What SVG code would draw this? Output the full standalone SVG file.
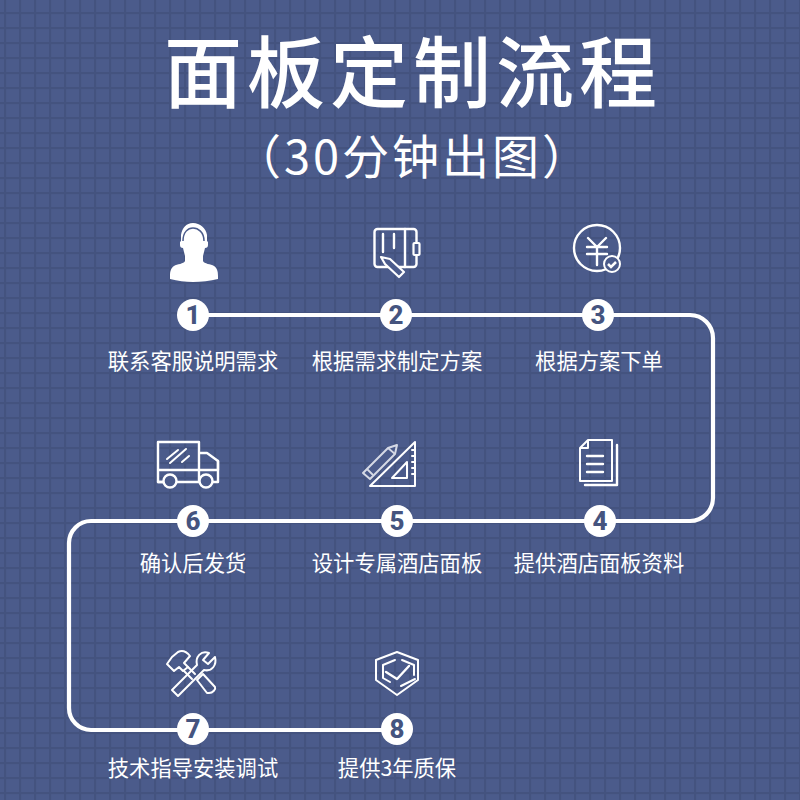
<svg xmlns="http://www.w3.org/2000/svg" width="800" height="800" viewBox="0 0 800 800">
<style>
text{font-family:"Noto Sans CJK SC","Liberation Sans",sans-serif;fill:#fff;text-anchor:middle}
.lb{font-size:21.300px}
.n{font-size:26px;font-weight:800;fill:#45547f;font-family:"Roboto","Noto Sans",sans-serif}
.c{fill:#fff}
.i{fill:none;stroke:#fff;stroke-width:2.400;stroke-linejoin:round;stroke-linecap:round}
.t{fill:none;stroke:#fff;stroke-width:2;stroke-linejoin:round;stroke-linecap:round}
</style>
<defs>
<pattern id="g" width="15" height="15" patternUnits="userSpaceOnUse" x="5" y="13">
<rect width="15" height="15" fill="#4b5b8b"/>
<rect x="0" width="1.200" height="15" fill="#44537f"/>
<rect x="14" width="1" height="15" fill="#44537f"/>
<rect y="0" width="15" height="1.200" fill="#44537f"/>
<rect y="14" width="15" height="1" fill="#44537f"/>
</pattern>
</defs>
<rect width="800" height="800" fill="url(#g)"/>
<g id="title">
<text x="413" y="102" font-size="78" font-weight="500" letter-spacing="5">面板定制流程</text>
<text x="413" y="174" font-size="47" font-weight="400" letter-spacing="3">（30分钟出图）</text>
</g>
<g id="connectors">
<path d="M193 315H690a23 23 0 0 1 23 23V498a23 23 0 0 1 -23 23H91a22 22 0 0 0 -22 22V708a22 22 0 0 0 22 22H397" fill="none" stroke="#fff" stroke-width="4.200"/>
</g>
<g id="node1">
<path class="c" d="M193 223c-7 0-11 5-12 12v6l-1 1v3c0 2 1 3 3 3l2 8v5c-1 3-8 3-11 5-3 2-4 5-4 10v3c8 2 15 3 23 3s17-1 25-3v-3c0-5-1-8-4-10-3-2-10-2-11-5v-5l2-8c2 0 3-1 3-3v-3l-1-1v-6c-1-7-7-12-14-12z"/>
<path d="M183 241c0-9 5-13 10-13s11 4 11 13" fill="none" stroke="#4b5b8b" stroke-width="1.500"/>
<circle class="c" cx="193" cy="315" r="16"/><text class="n" x="193" y="324">1</text>
<text class="lb" x="193" y="369">联系客服说明需求</text>
</g>
<g id="node2">
<rect class="i" x="374.500" y="229" width="42" height="38" rx="3"/>
<path class="i" d="M383 234V252M394 234V248M405 229V267"/>
<rect x="413.500" y="243" width="6" height="12" rx="1" fill="#4b5b8b" stroke="#fff" stroke-width="2.200"/>
<path d="M381 257l9 2 14 13-5 5-14-13z" fill="#4b5b8b" stroke="#fff" stroke-width="2.200" stroke-linejoin="round"/>
<circle class="c" cx="396" cy="315" r="16"/><text class="n" x="396" y="324">2</text>
<text class="lb" x="397" y="369">根据需求制定方案</text>
</g>
<g id="node3">
<circle class="i" cx="597" cy="248" r="23"/>
<path class="i" d="M588 238L597 247L606 238M587 247H607M587 254H607M597 247V265"/>
<circle cx="612" cy="264" r="8" fill="#4b5b8b" stroke="#fff" stroke-width="2"/>
<path d="M608 264l3 3 5-5" fill="none" stroke="#fff" stroke-width="2.500"/>
<circle class="c" cx="598" cy="315" r="16"/><text class="n" x="598" y="324">3</text>
<text class="lb" x="599" y="369">根据方案下单</text>
</g>
<g id="node4">
<path class="t" d="M588 440H612V481H580V448ZM588 440V448H580"/>
<path class="i" d="M617 445V485H585"/>
<path class="i" d="M587 456H603M587 464H603M587 472H603"/>
<circle class="c" cx="600" cy="521" r="16"/><text class="n" x="600" y="530">4</text>
<text class="lb" x="599" y="571">提供酒店面板资料</text>
</g>
<g id="node5">
<path class="t" d="M415 442V486H370ZM407 462L392 478H407Z"/>
<path class="t" stroke-width="1.500" d="M415 450h-3M415 456h-3M415 462h-3M415 468h-3M415 474h-3"/>
<path d="M363 473L388 448 397 445 395 454 370 479Z" fill="#4b5b8b" stroke="#d5d9e5" stroke-width="2" stroke-linejoin="round"/>
<path d="M367 469l6 6M388 448l7 6" stroke="#d5d9e5" stroke-width="1.800" fill="none"/>
<circle class="c" cx="397" cy="521" r="16"/><text class="n" x="397" y="530">5</text>
<text class="lb" x="397" y="571">设计专属酒店面板</text>
</g>
<g id="node6">
<path class="i" d="M199 442V482H158V442H199M158 470H218V461L207 453H199"/>
<path class="i" d="M218 461V482H206M158 482H165"/>
<circle cx="170" cy="481" r="6.500" fill="#4b5b8b" stroke="#fff" stroke-width="2.400"/>
<circle cx="206" cy="481" r="6.500" fill="#4b5b8b" stroke="#fff" stroke-width="2.400"/>
<path class="t" d="M167 459L178 450M170 463L186 449M182 462L189 456"/>
<circle class="c" cx="193" cy="521" r="16"/><text class="n" x="193" y="530">6</text>
<text class="lb" x="193" y="571">确认后发货</text>
</g>
<g id="node7">
<path class="t" d="M167 664L174 671 179 667 183 671 188 667 184 663 190 656C186 651 182 650 178 652L172 657Z"/>
<path class="t" d="M184 671L192 679M188 667L195 674"/>
<path class="t" d="M172 690L178 696 204 670C212 672 217 665 215 657L208 664 203 660 209 653C201 650 195 657 197 665Z"/>
<path class="t" d="M197 680L203 674 215 687C216 689 213 693 209 693L207 693Z"/>
<circle class="c" cx="193" cy="729" r="16"/><text class="n" x="193" y="738">7</text>
<text class="lb" x="193" y="776">技术指导安装调试</text>
</g>
<g id="node8">
<path class="t" d="M397 652L418 660V680L397 695 376 680V660Z"/>
<path class="t" d="M395 660L383 665V678L390 682M402 660L414 665V675M415 679L401 686"/>
<path class="i" d="M386 672L397 679 409 666" stroke-width="3"/>
<circle class="c" cx="397" cy="729" r="16"/><text class="n" x="397" y="738">8</text>
<text class="lb" x="397" y="776">提供3年质保</text>
</g>
</svg>
